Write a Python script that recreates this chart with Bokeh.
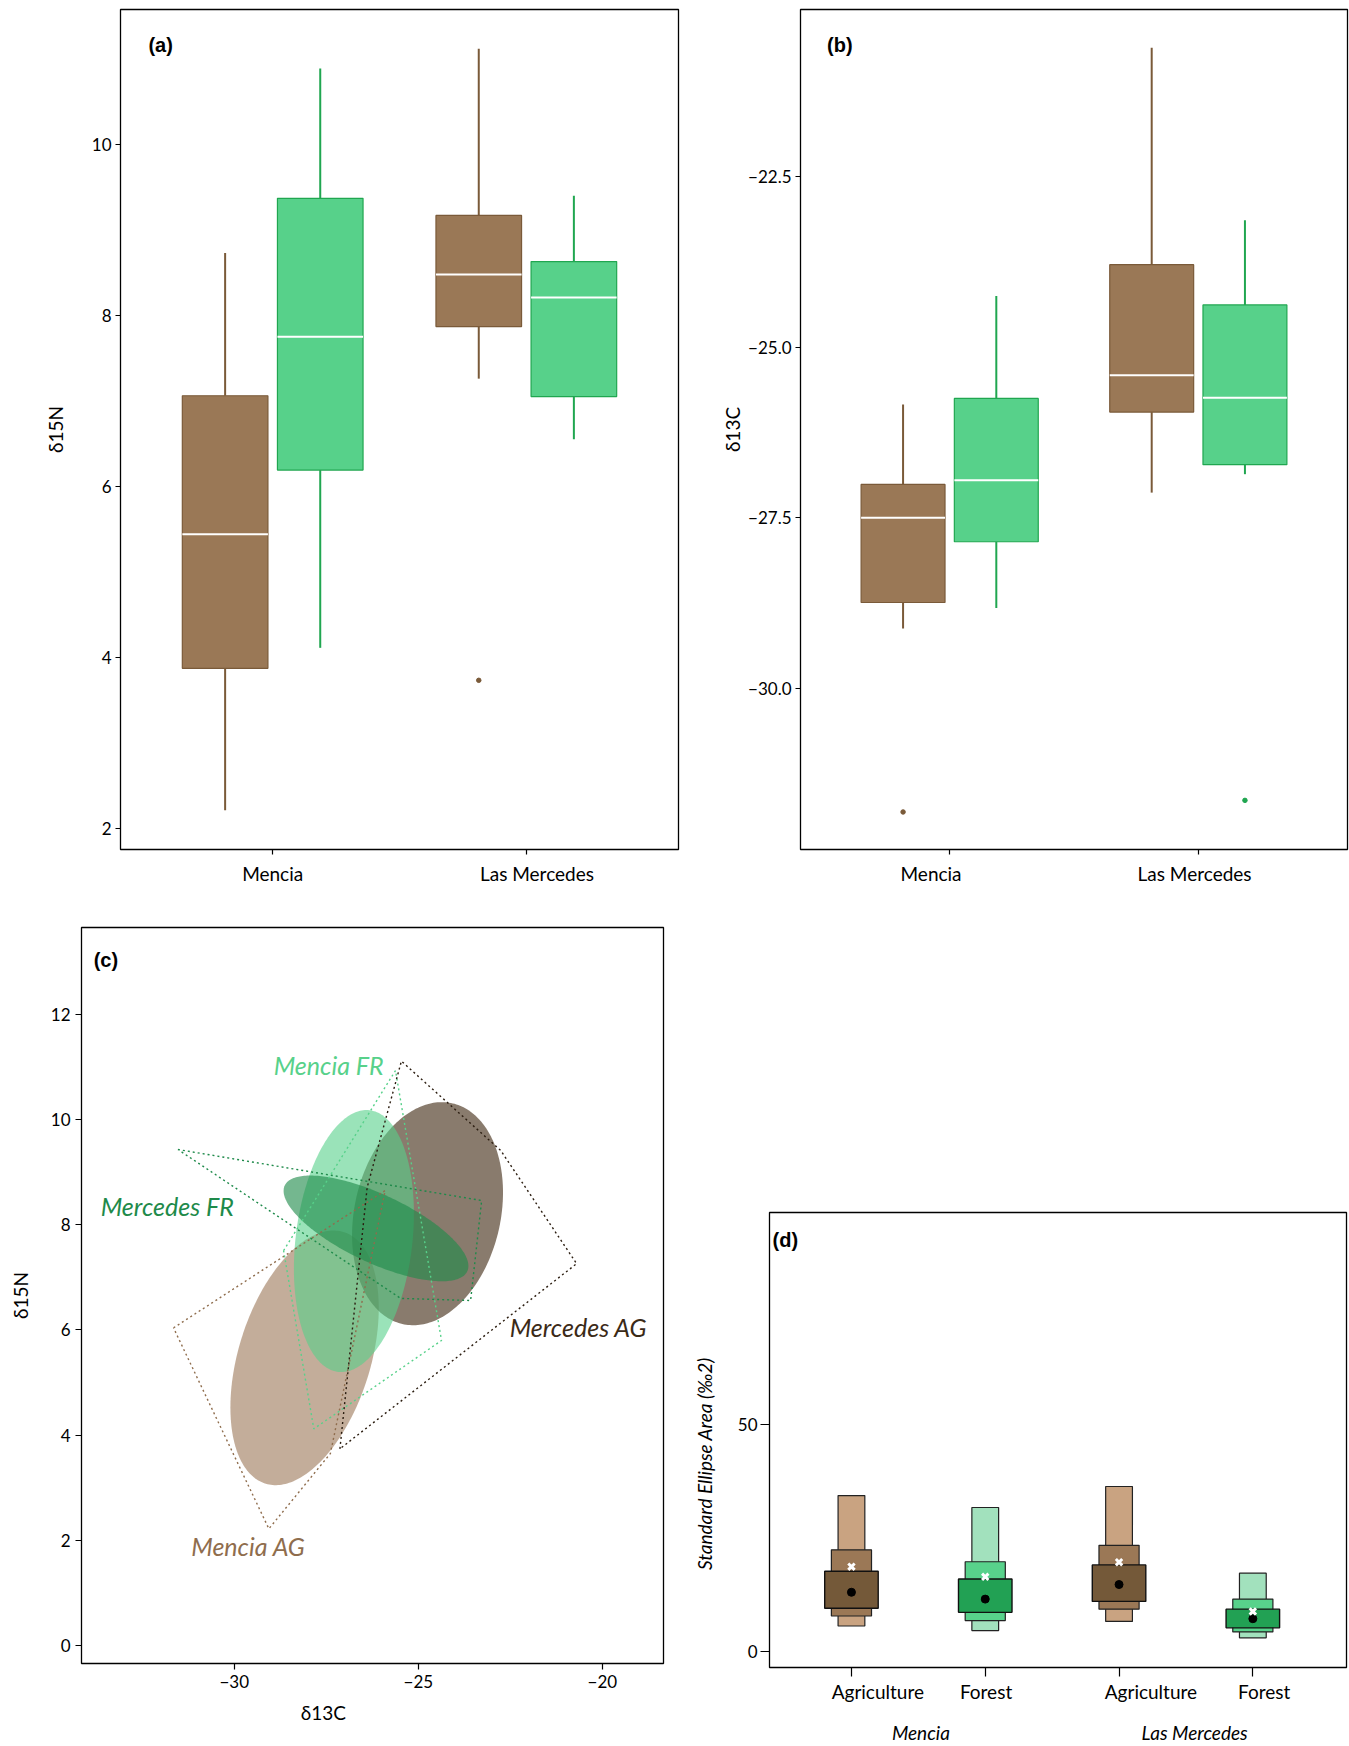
import numpy as np
from bokeh.plotting import figure
from bokeh.layouts import column, row
from bokeh.models import (ColumnDataSource, FixedTicker, Range1d, Label, LinearAxis,
                          CustomJSTickFormatter)
from bokeh.embed import file_html
from bokeh.resources import INLINE
from bokeh.core.properties import value

# ---------------- data ----------------
site_names = ["Mencia", "Las Mercedes"]
site_pos = [1, 2]
groups = ["Mencia AG", "Mencia FR", "Mercedes AG", "Mercedes FR"]
group_site = [1, 1, 2, 2]
group_hab = ["AG", "FR", "AG", "FR"]

# (a) d15N boxplot statistics
n15_low = [2.21, 4.11, 7.26, 6.55]
n15_q1 = [3.87, 6.19, 7.87, 7.05]
n15_med = [5.44, 7.75, 8.48, 8.21]
n15_q3 = [7.06, 9.37, 9.17, 8.63]
n15_high = [8.73, 10.89, 11.12, 9.40]
n15_out_group = [2]
n15_out_val = [3.73]

# (b) d13C boxplot statistics
c13_low = [-29.12, -28.82, -27.13, -26.86]
c13_q1 = [-28.74, -27.85, -25.95, -26.72]
c13_med = [-27.50, -26.95, -25.41, -25.74]
c13_q3 = [-27.01, -25.75, -23.79, -24.38]
c13_high = [-25.84, -24.25, -20.61, -23.14]
c13_out_group = [0, 3]
c13_out_val = [-31.81, -31.64]

# (c) standard ellipses: mean, sd and correlation of (d13C, d15N)
ell_mx = [-28.09, -26.75, -24.75, -26.15]
ell_my = [5.47, 7.69, 8.21, 7.93]
ell_sx = [2.015, 1.63, 2.05, 2.51]
ell_sy = [2.42, 2.49, 2.12, 1.005]
ell_r = [0.39, 0.21, 0.19, -0.71]

# (c) convex hulls
hull_x = [[-31.65, -25.90, -27.39, -29.06],
          [-28.66, -25.62, -24.37, -27.84],
          [-27.13, -26.39, -25.46, -22.76, -20.70],
          [-31.53, -23.28, -23.58, -25.48]]
hull_y = [[6.04, 8.65, 3.65, 2.22],
          [7.51, 10.93, 5.80, 4.12],
          [3.74, 8.71, 11.11, 9.41, 7.26],
          [9.43, 8.46, 6.56, 6.60]]

group_label_x = [-31.17, -28.93, -22.52, -33.63]
group_label_y = [1.90, 11.04, 6.06, 8.35]

# (d) Bayesian SEA credible intervals
sea_cat = ["Agriculture", "Forest", "Agriculture", "Forest"]
sea_site = ["Mencia", "Mencia", "Las Mercedes", "Las Mercedes"]
sea_pos = [1, 2, 3, 4]
sea95_lo = [5.7, 4.7, 6.7, 3.1]
sea95_hi = [34.3, 31.7, 36.3, 17.3]
sea75_lo = [7.9, 6.9, 9.4, 4.4]
sea75_hi = [22.4, 19.8, 23.4, 11.6]
sea50_lo = [9.6, 8.7, 11.1, 5.3]
sea50_hi = [17.7, 16.0, 19.1, 9.4]
sea_mode = [13.1, 11.6, 14.8, 7.3]
sea_c = [18.7, 16.5, 19.7, 8.9]

# ---------------- styles ----------------
FONT = "Lato"
TAGFONT = "Liberation Sans"
FILL = {"AG": "#9a7856", "FR": "#57d18a"}
EDGE = {"AG": "#7a5a39", "FR": "#20a650"}
ELL_COL = ["#9b7756", "#57d18a", "#3a230c", "#1e8a4a"]
ELL_ALPHA = [0.6, 0.6, 0.6, 0.62]
HULL_COL = ["#8f6d4d", "#57d18a", "#2b1d10", "#1e8a4a"]
TXT_COL = ["#8f6d4d", "#57d18a", "#3b2a17", "#1e8a4a"]
SEA_LIGHT = {"AG": "#c9a381", "FR": "#a2e1bd"}
SEA_MED = {"AG": "#9b7856", "FR": "#58d28b"}
SEA_DARK = {"AG": "#745939", "FR": "#22a154"}


def base_fig(width, height, xr, yr, bl, br, bt, bb):
    p = figure(width=width, height=height, x_range=xr, y_range=yr,
               min_border_left=bl, min_border_right=br, min_border_top=bt,
               min_border_bottom=bb, output_backend="svg", toolbar_location=None)
    try:
        p.frame_align = False
    except Exception:
        pass
    p.outline_line_color = "black"
    p.outline_line_width = 1.3
    p.xgrid.visible = False
    p.ygrid.visible = False
    for ax in p.axis:
        ax.axis_line_color = None
        ax.major_tick_line_color = "black"
        ax.major_tick_line_width = 1.2
        ax.minor_tick_line_color = None
        ax.major_tick_in = 0
        ax.major_label_text_font = FONT
        ax.major_label_text_color = "black"
        ax.axis_label_text_font = FONT
        ax.axis_label_text_font_style = "normal"
        ax.axis_label_text_color = "black"
    return p


def text_axis(p, side, pos, text, size, style, standoff, orientation="horizontal"):
    ax = LinearAxis(ticker=FixedTicker(ticks=pos),
                    major_label_overrides={k: v for k, v in zip(pos, text)})
    ax.axis_line_color = None
    ax.major_tick_line_color = None
    ax.minor_tick_line_color = None
    ax.major_tick_out = 0
    ax.major_tick_in = 0
    ax.major_label_text_font = FONT
    ax.major_label_text_font_size = size
    ax.major_label_text_font_style = style
    ax.major_label_text_color = "black"
    ax.major_label_standoff = standoff
    ax.major_label_orientation = orientation
    p.add_layout(ax, side)


def ticks_only(ax, ticks, out):
    ax.ticker = FixedTicker(ticks=ticks)
    ax.major_label_overrides = {k: "" for k in ticks}
    ax.major_label_text_font_size = "1px"
    ax.major_label_standoff = 0
    ax.major_tick_out = out


def tag(p, x, y, text):
    p.add_layout(Label(x=x, y=y, text=text, text_font=TAGFONT, text_font_style="bold",
                       text_font_size="20px", text_baseline="middle", text_align="left",
                       text_color="black"))


BW = 0.3375
OFF = {"AG": -0.1875, "FR": 0.1875}


def box_panel(width, bl, br, yr, low, q1, med, q3, high, out_g, out_v, yticks,
              ylabel, ylab_standoff, label_pos, fmt=None):
    p = base_fig(width, 898, Range1d(0.4, 2.6), yr, bl, br, 9, 49)
    bx = [s + OFF[h] for s, h in zip(group_site, group_hab)]
    src = ColumnDataSource(dict(
        x=bx, x0=[v - BW / 2 for v in bx], x1=[v + BW / 2 for v in bx],
        low=low, q1=q1, med=med, q3=q3, high=high,
        fill=[FILL[h] for h in group_hab], edge=[EDGE[h] for h in group_hab]))
    p.segment(x0="x", y0="q3", x1="x", y1="high", line_color="edge", line_width=2, source=src)
    p.segment(x0="x", y0="low", x1="x", y1="q1", line_color="edge", line_width=2, source=src)
    p.vbar(x="x", width=BW, bottom="q1", top="q3", fill_color="fill", line_color="edge",
           line_width=1.2, source=src)
    p.segment(x0="x0", y0="med", x1="x1", y1="med", line_color="white", line_width=2, source=src)
    p.scatter([bx[g] for g in out_g], out_v, size=4.5,
              color=[EDGE[group_hab[g]] for g in out_g])
    ticks_only(p.xaxis[0], site_pos, 5)
    # site names sit where the original prints them (not exactly under the ticks)
    text_axis(p, "below", label_pos, site_names, "19px", "normal", 7)
    p.yaxis.ticker = FixedTicker(ticks=yticks)
    p.yaxis.major_label_text_font_size = "17px"
    p.yaxis.major_tick_out = 5
    p.yaxis.major_label_standoff = 4
    if fmt is not None:
        p.yaxis.formatter = fmt
    p.yaxis.axis_label = ylabel
    p.yaxis.axis_label_text_font_size = "19px"
    p.yaxis.axis_label_standoff = ylab_standoff
    return p


# ---------------- (a) ----------------
pa = box_panel(718, 120, 40, Range1d(1.75, 11.58), n15_low, n15_q1, n15_med, n15_q3,
               n15_high, n15_out_group, n15_out_val, [2, 4, 6, 8, 10], "δ15N", 22,
               [1.0, 2.042])
tag(pa, 0.51, 11.16, "(a)")

# ---------------- (b) ----------------
fmt1 = CustomJSTickFormatter(code="return (tick < 0 ? '−' : '') + Math.abs(tick).toFixed(1);")
pb = box_panel(631, 80, 2, Range1d(-32.36, -20.05), c13_low, c13_q1, c13_med, c13_q3,
               c13_high, c13_out_group, c13_out_val, [-30, -27.5, -25, -22.5], "δ13C", 1,
               [0.925, 1.985], fmt1)
tag(pb, 0.507, -20.57, "(b)")

# ---------------- (c) ----------------
pc = base_fig(690, 848, Range1d(-34.15, -18.34), Range1d(-0.34, 13.65), 81, 27, 29, 83)
t = np.linspace(0, 2 * np.pi, 241)
order = [0, 2, 1, 3]
exs, eys = [], []
for i in order:
    r = ell_r[i]
    exs.append(list(ell_mx[i] + ell_sx[i] * np.cos(t)))
    eys.append(list(ell_my[i] + ell_sy[i] * (r * np.cos(t) + np.sqrt(1 - r * r) * np.sin(t))))
pc.patches(xs=exs, ys=eys, fill_color=[ELL_COL[i] for i in order],
           fill_alpha=[ELL_ALPHA[i] for i in order], line_color=None)
hx = [hx_ + [hx_[0]] for hx_ in hull_x]
hy = [hy_ + [hy_[0]] for hy_ in hull_y]
pc.multi_line(xs=hx, ys=hy, line_color=HULL_COL, line_width=1.4, line_dash="2 3")
pc.text(x=group_label_x, y=group_label_y, text=groups, text_color=TXT_COL,
        text_font=value(FONT), text_font_style="italic", text_font_size="25px",
        text_align="left", text_baseline="alphabetic")
fmt0 = CustomJSTickFormatter(code="return (tick < 0 ? '−' : '') + Math.abs(tick).toFixed(0);")
pc.xaxis.ticker = FixedTicker(ticks=[-30, -25, -20])
pc.xaxis.formatter = fmt0
pc.yaxis.ticker = FixedTicker(ticks=[0, 2, 4, 6, 8, 10, 12])
for ax in pc.axis:
    ax.major_label_text_font_size = "17px"
    ax.major_tick_out = 6
    ax.major_label_standoff = 5
    ax.axis_label_text_font_size = "19px"
pc.yaxis.axis_label = "δ15N"
pc.yaxis.axis_label_standoff = 16
# x title, placed where the original has it (left of the frame centre)
text_axis(pc, "below", [-27.58], ["δ13C"], "19px", "normal", 10)
tag(pc, -33.82, 13.04, "(c)")

# ---------------- (d) ----------------
pdd = base_fig(659, 848, Range1d(0.3875, 4.70), Range1d(-3.4, 96.4), 75, 3, 314, 77)
hab_of = ["AG", "FR", "AG", "FR"]
dsrc = ColumnDataSource(dict(
    x=sea_pos, lo95=sea95_lo, hi95=sea95_hi, lo75=sea75_lo, hi75=sea75_hi,
    lo50=sea50_lo, hi50=sea50_hi, mode=sea_mode, c=sea_c,
    light=[SEA_LIGHT[h] for h in hab_of], med=[SEA_MED[h] for h in hab_of],
    dark=[SEA_DARK[h] for h in hab_of]))
pdd.vbar(x="x", width=0.2, bottom="lo95", top="hi95", fill_color="light",
         line_color="#222222", line_width=1.2, source=dsrc)
pdd.vbar(x="x", width=0.3, bottom="lo75", top="hi75", fill_color="med",
         line_color="#222222", line_width=1.2, source=dsrc)
pdd.vbar(x="x", width=0.4, bottom="lo50", top="hi50", fill_color="dark",
         line_color="#111111", line_width=1.4, source=dsrc)
pdd.scatter(x="x", y="mode", size=8, color="black", source=dsrc)
pdd.scatter(x="x", y="c", marker="x", size=9, line_color="white", line_width=3, source=dsrc)
ticks_only(pdd.xaxis[0], sea_pos, 9)
pdd.yaxis.ticker = FixedTicker(ticks=[0, 50])
pdd.yaxis.major_label_text_font_size = "17px"
pdd.yaxis.major_tick_out = 9
pdd.yaxis.major_label_standoff = 3
# y title, centred where the original has it
text_axis(pdd, "left", [41.8], ["Standard Ellipse Area  (‰2)"], "19px", "italic", 18,
          orientation="vertical")
# category labels (slightly right of the tick marks, as in the original)
cat_x = [1.197, 2.006, 3.238, 4.085]
text_axis(pdd, "below", cat_x, sea_cat, "19px", "normal", 3)
# site labels
site_x = [1.519, 3.565]
text_axis(pdd, "below", site_x, site_names, "19px", "italic", 15)
tag(pdd, 0.41, 90.3, "(d)")

layout = column(row(pa, pb), row(pc, pdd))
open("out.html", "w").write(file_html(layout, INLINE))
